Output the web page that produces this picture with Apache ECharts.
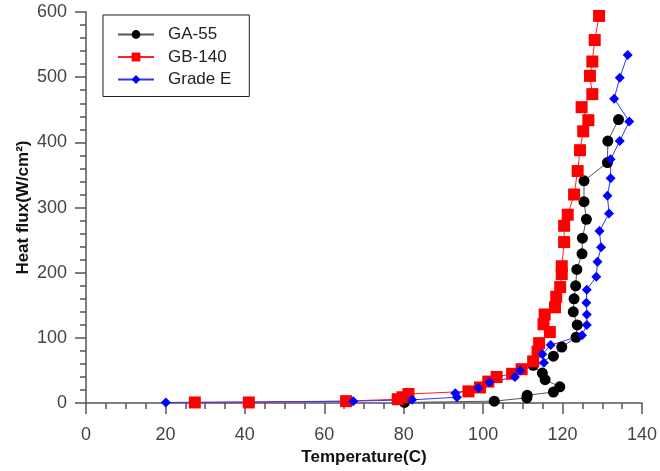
<!DOCTYPE html>
<html>
<head>
<meta charset="utf-8">
<script src="https://cdn.jsdelivr.net/npm/echarts@6/dist/echarts.min.js"></script>
<style>
  html, body { margin: 0; padding: 0; background: #fff; }
  #chart { width: 660px; height: 471px; }
</style>
</head>
<body>
<div id="chart"></div>
<script>
// data
const gaTemp = [80.2, 102.8, 111.0, 111.1, 117.7, 119.3, 115.6, 114.9, 112.6, 117.7, 119.8, 123.4, 123.7, 122.7, 122.9, 123.3, 123.6, 124.9, 125.0, 126.0, 125.4, 125.4, 131.3, 131.4, 134.1];
const gaFlux = [1, 3, 8, 12, 17, 25, 36, 46, 58, 72, 86, 101, 120, 140, 160, 180, 205, 229, 253, 282, 309, 341, 369, 402, 435];

const gbTemp = [27.4, 41.0, 65.5, 78.5, 79.7, 81.2, 96.3, 99.2, 101.3, 103.4, 107.3, 109.7, 112.6, 113.7, 114.1, 116.8, 115.2, 115.5, 118.1, 118.4, 119.4, 119.8, 119.8, 120.4, 120.4, 121.3, 122.9, 123.8, 124.4, 125.2, 126.5, 124.8, 127.5, 126.9, 127.5, 128.1, 129.2];
const gbFlux = [1, 1, 3, 6, 9, 14, 18, 24, 33, 40, 45, 52, 64, 79, 92, 109, 121, 136, 147, 163, 178, 198, 210, 247, 272, 289, 320, 356, 388, 417, 434, 454, 474, 502, 524, 557, 594];

const geTemp = [20.1, 67.3, 82.1, 93.4, 93.0, 98.8, 101.6, 108.0, 109.3, 115.3, 114.9, 117.0, 124.9, 126.1, 126.1, 126.0, 126.1, 128.5, 128.8, 129.7, 129.3, 131.7, 131.3, 132.1, 132.1, 134.4, 136.8, 133.0, 134.4, 136.4];
const geFlux = [1, 3, 5, 9, 15, 23, 32, 40, 50, 62, 75, 89, 104, 120, 136, 154, 174, 194, 217, 239, 264, 291, 318, 345, 374, 402, 432, 467, 499, 534];

const seriesNames = ['GA-55', 'GB-140', 'Grade E'];

function pairs(xs, ys) {
  return xs.map((x, i) => [x, ys[i]]);
}

const font = 'Liberation Sans, Arial, Helvetica, sans-serif';

const myChart = echarts.init(document.getElementById('chart'));
const option = {
  animation: false,
  backgroundColor: '#fff',
  grid: { left: 86, right: 17, top: 12, bottom: 66 },
  legend: {
    data: seriesNames,
    orient: 'vertical',
    left: 103,
    top: 15,
    padding: [11, 18, 8.5, 14],
    itemWidth: 36,
    itemHeight: 11,
    itemGap: 5.5,
    borderColor: '#222',
    borderWidth: 1,
    textStyle: { fontFamily: font, fontSize: 17, color: '#222', padding: [0, 0, 0, 9] }
  },
  xAxis: {
    type: 'value',
    min: 0,
    max: 140,
    interval: 20,
    offset: 5,
    name: 'Temperature(C)',
    nameLocation: 'middle',
    nameGap: 36,
    nameTextStyle: { fontFamily: font, fontSize: 17, fontWeight: 'bold', color: '#111' },
    axisLine: { show: true, lineStyle: { color: '#555', width: 1.5 } },
    axisTick: { show: true, length: 11, lineStyle: { color: '#555', width: 1.5 } },
    minorTick: { show: true, splitNumber: 4, length: 6, lineStyle: { color: '#555', width: 1.5 } },
    axisLabel: { fontFamily: font, fontSize: 18, color: '#444', margin: 18 },
    splitLine: { show: false }
  },
  yAxis: {
    type: 'value',
    min: 0,
    max: 600,
    interval: 100,
    offset: 1,
    name: 'Heat flux(W/cm²)',
    nameLocation: 'middle',
    nameGap: 53,
    nameMoveOverlap: false,
    nameTextStyle: { fontFamily: font, fontSize: 17, fontWeight: 'bold', color: '#111' },
    axisLine: { show: true, lineStyle: { color: '#555', width: 1.5 } },
    axisTick: { show: true, length: 11, lineStyle: { color: '#555', width: 1.5 } },
    minorTick: { show: true, splitNumber: 5, length: 6, lineStyle: { color: '#555', width: 1.5 } },
    axisLabel: { fontFamily: font, fontSize: 18, color: '#444', margin: 18 },
    splitLine: { show: false }
  },
  series: [
    {
      name: seriesNames[0],
      type: 'line',
      data: pairs(gaTemp, gaFlux),
      symbol: 'circle',
      symbolSize: 11,
      itemStyle: { color: '#000' },
      lineStyle: { color: '#555', width: 1 }
    },
    {
      name: seriesNames[1],
      type: 'line',
      data: pairs(gbTemp, gbFlux),
      symbol: 'rect',
      symbolSize: 12,
      itemStyle: { color: '#f00' },
      lineStyle: { color: '#f22', width: 1 }
    },
    {
      name: seriesNames[2],
      type: 'line',
      data: pairs(geTemp, geFlux),
      symbol: 'diamond',
      symbolSize: 10,
      itemStyle: { color: '#00f' },
      lineStyle: { color: '#33f', width: 1 }
    }
  ]
};
myChart.setOption(option);
</script>
</body>
</html>
